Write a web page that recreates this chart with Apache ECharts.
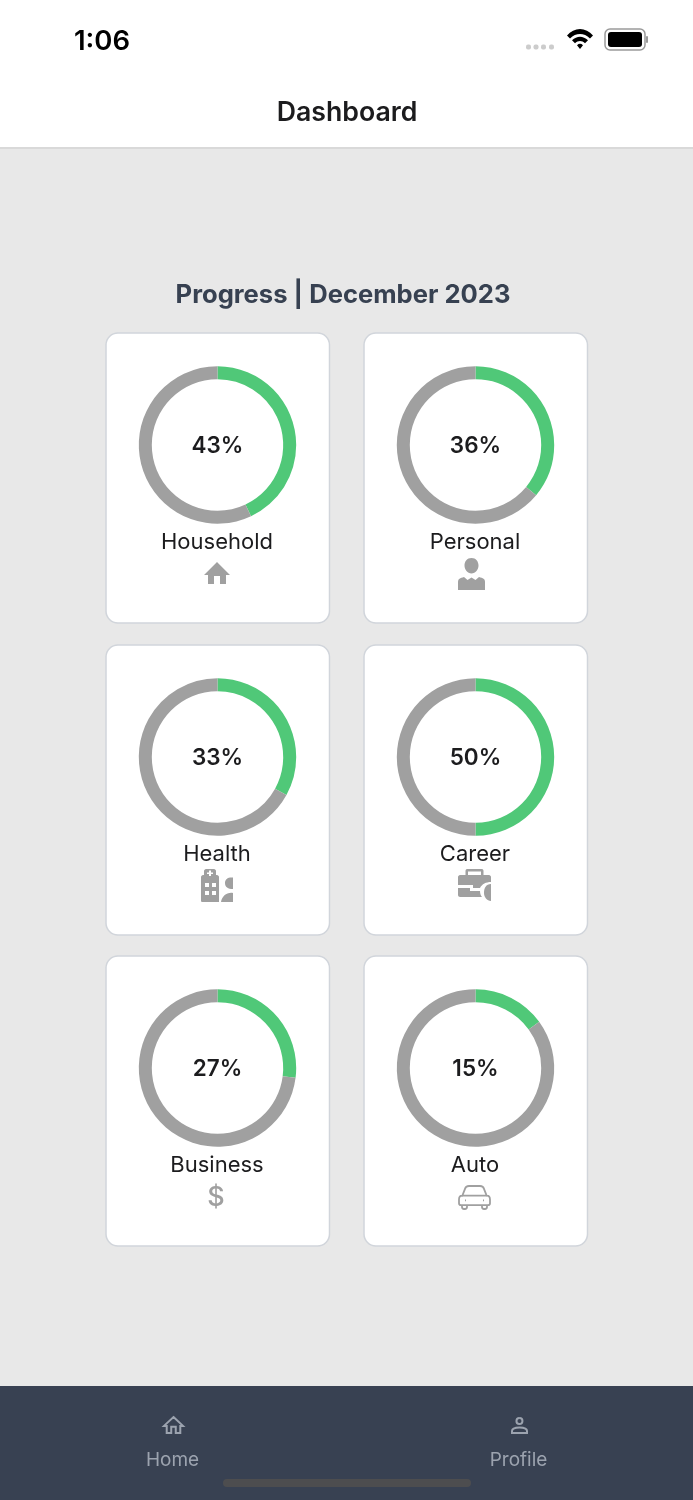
<!DOCTYPE html>
<html>
<head>
<meta charset="utf-8">
<style>
html,body{margin:0;padding:0;background:#e8e8e8;}
#main{width:693px;height:1500px;}
</style>
<script src="https://cdn.jsdelivr.net/npm/echarts@6/dist/echarts.min.js"></script>
</head>
<body>
<div id="main"></div>
<script>
var categories = ['Household','Personal','Health','Career','Business','Auto'];
var percents = [43,36,33,50,27,15];
var pageTitle = 'Progress | December 2023';
var tabs = ['Home','Profile'];

var FONT = 'Inter, "Noto Sans", sans-serif';
var GREEN = '#50c878', GREY = '#a0a0a0', INK = '#1c1c1e', NAVY = '#384152', TABGREY = '#9ca3af';
var colX = [217.5,475.5];
var rowY = [445,757,1068];

// icons: [path, x, y, w, h, stroke width (0 = filled), colour]
var icons = [
	['M13 0L26 13H22V22H16V14H10V22H4V13H0Z',204,562,26,22,0,GREY],
	['M13.5 0C18 0 20.5 3.5 20.5 7.5C20.5 11.5 17.5 15.5 13.5 15.5C9.5 15.5 6.5 11.5 6.5 7.5C6.5 3.5 9 0 13.5 0ZM0 32V24C0 21 2 20 6 19L9.5 22L13.5 19.5L17.5 22L21 19C25 20 27 21 27 24V32Z',458,558,27,32,0,GREY],
	['M5 0H13C14 0 15 1 15 2V6H16C17 6 18 7 18 8V33H1C0 33 0 32 0 31V8C0 7 1 6 2 6H3V2C3 1 4 0 5 0ZM8 1.5V3.5H6V5H8V7H10V5H12V3.5H10V1.5ZM4 14V18H8V14ZM11 14V18H15V14ZM4 22V26H8V22ZM11 22V26H15V22ZM32 8.5C27 8 24 10 24 14C24 18 27 20 32 20ZM32 24C26 23 21 27 20 33H32Z',201,869,32,33,0,GREY],
	['M9 0H24C25 0 25.5 1 25.5 2V6H31C32 6 33 7 33 8V13C28 13 24 15 22 19H15V16H0V8C0 7 1 6 2 6H7.5V2C7.5 1 8 0 9 0ZM10 2.5V6H23V2.5ZM0 19H12V22H22C22 25 23 27 24 28H2C1 28 0 27 0 26ZM33 15C28 15 26 19 26 24C26 28 29 32 33 32Z',458,869,33,32,0,GREY],
	['M4 11L7 3C7.5 1 9 0 11 0H22C24 0 25.5 1 26 3L29 11M4 10H29C31 10 32 12 32 14V18C32 19 31 20 30 20H3C2 20 1 19 1 18V14C1 12 2 10 4 10ZM4 20V22C4 23 5 24 6 24H7C8 24 9 23 9 22V20M24 20V22C24 23 25 24 26 24H27C28 24 29 23 29 22V20M7 15H8M25 15H26',459,1186,31,23,1.8,GREY],
	['M10.5 0L21 10H18V18H13V11H8V18H3V10H0Z',164,1417,19,16,2,TABGREY],
	['M7.5 0A3 3 0 1 1 7.4 0M0 15V13C0 11 3 9.5 7.5 9.5C12 9.5 15 11 15 13V15Z',512,1418,15,15,2,TABGREY],
	['M0 7C7 -2 19 -2 26 7L23 10C17 4 9 4 3 10ZM5 12C10 7 16 7 21 12L18 15C15 12 11 12 8 15ZM10 17C12 15 14 15 16 17L13 21Z',567,29,26,20,0,'#000000']
];

var graphics = [
	{type:'rect',shape:{x:0,y:0,width:693,height:147},style:{fill:'#ffffff'}},
	{type:'rect',shape:{x:0,y:147,width:693,height:2},style:{fill:'#d9d9d9'}},
	{type:'rect',shape:{x:0,y:1386,width:693,height:114},style:{fill:NAVY}},
	{type:'rect',shape:{x:223,y:1479,width:248,height:8,r:4},style:{fill:'#4d4d4f'}}
];

function addText(text,x,y,size,weight,color){
	graphics.push({type:'text',x:x,y:y,style:{text:text,fill:color,font:weight+' '+size+'px '+FONT,textAlign:'center',textVerticalAlign:'middle'}});
}

addText('1:06',102,42,27.5,600,'#000000');
addText('Dashboard',347,113,26.7,600,INK);
addText(pageTitle,343,295,25.6,700,'#374151');
addText(tabs[0],172.5,1460,19,400,TABGREY);
addText(tabs[1],518.5,1460,19,400,TABGREY);

// status bar bits
[526,533.5,541,549].forEach(function(x){
	graphics.push({type:'rect',shape:{x:x,y:44.5,width:5,height:5,r:2},style:{fill:'#cccccc'}});
});
graphics.push({type:'rect',shape:{x:605,y:29,width:40,height:21,r:5},style:{fill:'#ffffff',stroke:'#9a9a9a',lineWidth:1.5}});
graphics.push({type:'rect',shape:{x:608,y:32,width:34,height:15,r:3},style:{fill:'#000000'}});
graphics.push({type:'rect',shape:{x:646,y:36,width:2,height:7,r:1},style:{fill:'#9a9a9a'}});

var series = [];
categories.forEach(function(name,i){
	var cx = colX[i%2], cy = rowY[Math.floor(i/2)];
	var cardX = i%2 ? 364 : 106;
	graphics.push({type:'rect',shape:{x:cardX,y:cy-112,width:223.5,height:290,r:12},style:{fill:'#ffffff',stroke:'#d1d5db',lineWidth:1.5}});
	addText(name,i%2?475:217,cy+97,22,400,INK);
	series.push({
		type:'pie',
		name:name,
		center:[cx,cy],
		radius:[65.7,78.7],
		startAngle:90,
		clockwise:true,
		silent:true,
		animation:false,
		z:5,
		label:{show:false},
		labelLine:{show:false},
		data:[
			{value:percents[i],name:name,itemStyle:{color:GREEN},
				label:{show:true,position:'center',formatter:'{c}%',offset:[0,1],fontFamily:FONT,fontSize:22.5,fontWeight:600,color:INK}},
			{value:100-percents[i],name:'rest',itemStyle:{color:GREY}}
		]
	});
});

// graphic component has no path type, icons go through a custom series
series.push({
	type:'custom',
	coordinateSystem:'none',
	silent:true,
	z:6,
	data:icons.map(function(ic,i){return i;}),
	renderItem:function(params,api){
		var ic = icons[api.value(0)];
		return {
			type:'path',
			shape:{pathData:ic[0],x:ic[1],y:ic[2],width:ic[3],height:ic[4],layout:'cover'},
			style:ic[5]?{fill:'none',stroke:ic[6],lineWidth:ic[5]}:{fill:ic[6]}
		};
	}
});
graphics.push({type:'text',z:6,x:216,y:1198,style:{text:'$',fill:GREY,font:'500 27px '+FONT,textAlign:'center',textVerticalAlign:'middle'}});

var myChart = echarts.init(document.getElementById('main'),null,{renderer:'canvas'});
var option = {
	animation:false,
	backgroundColor:'#e8e8e8',
	graphic:{elements:graphics},
	series:series
};
myChart.setOption(option);
</script>
</body>
</html>
